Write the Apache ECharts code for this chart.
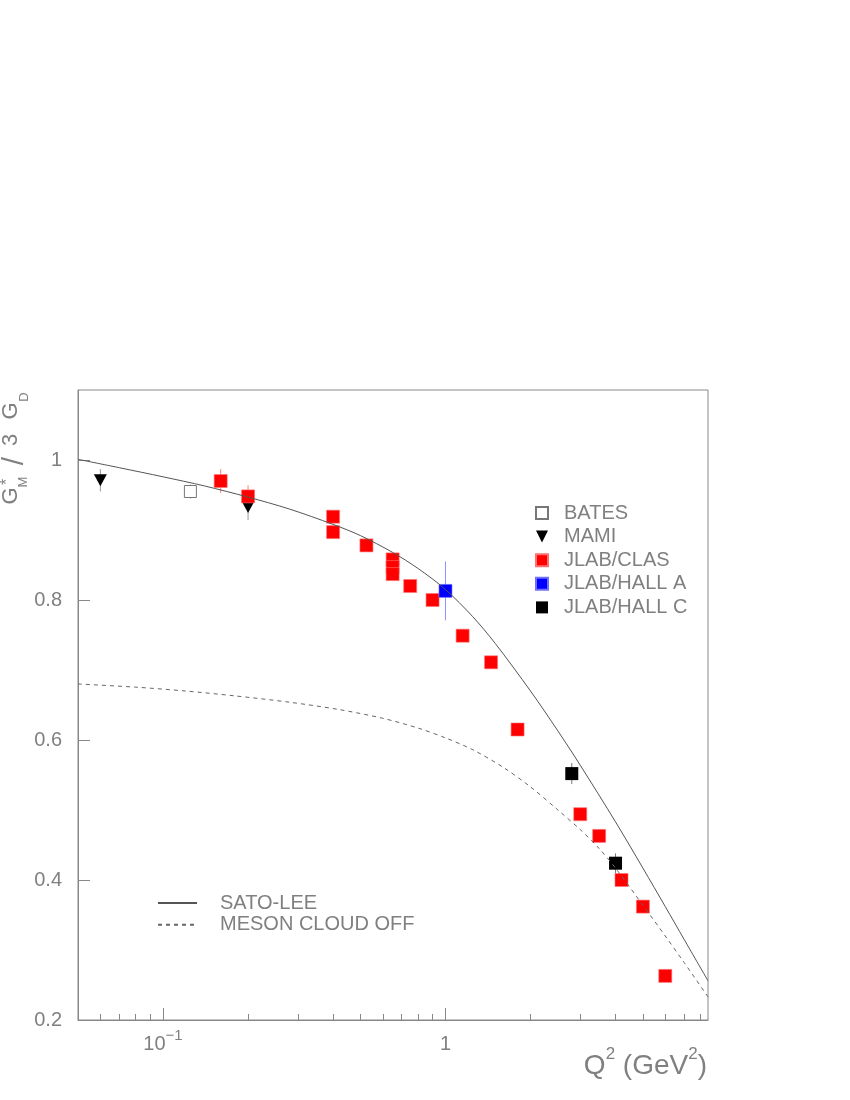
<!DOCTYPE html>
<html>
<head>
<meta charset="utf-8">
<script src="https://cdn.jsdelivr.net/npm/echarts@6/dist/echarts.min.js"></script>
<style>html,body{margin:0;padding:0;background:#fff}#c{width:850px;height:1100px}</style>
</head>
<body>
<div id="c"></div>
<script>
// ---- data ----
const batesX = [0.125];
const batesY = [0.955];
const batesErr = [0.010];

const mamiX = [0.06, 0.2];
const mamiY = [0.971, 0.933];
const mamiErr = [0.016, 0.019];

const clasX = [0.16, 0.2, 0.4, 0.4, 0.525, 0.65, 0.65, 0.65, 0.75, 0.9, 1.15, 1.45, 1.8, 3.0, 3.5, 4.2, 5.0, 6.0];
const clasY = [0.970, 0.948, 0.919, 0.897, 0.878, 0.858, 0.847, 0.837, 0.820, 0.800, 0.749, 0.711, 0.615, 0.494, 0.463, 0.400, 0.362, 0.263];
const clasErr = [0.017, 0.016, 0.006, 0.006, 0.005, 0.005, 0.005, 0.005, 0.005, 0.005, 0.005, 0.005, 0.005, 0.006, 0.006, 0.006, 0.006, 0.006];

const hallAX = [1.0];
const hallAY = [0.813];
const hallAErr = [0.042];

const hallCX = [2.8, 4.0];
const hallCY = [0.552, 0.424];
const hallCErr = [0.015, 0.014];

const satoX = [0.05, 0.07, 0.1, 0.14, 0.2, 0.28, 0.4, 0.5, 0.65, 0.8, 1.0, 1.25, 1.5, 2.0, 2.5, 3.0, 4.0, 5.0, 6.0, 7.0, 8.5];
const satoY = [1.001, 0.989, 0.976, 0.963, 0.947, 0.930, 0.908, 0.892, 0.868, 0.845, 0.815, 0.776, 0.738, 0.670, 0.613, 0.564, 0.483, 0.417, 0.362, 0.315, 0.256];

const dashX = [0.05, 0.08, 0.12, 0.18, 0.28, 0.42, 0.6, 0.8, 1.0, 1.25, 1.6, 2.0, 2.5, 3.0, 3.5, 4.0, 5.0, 6.0, 7.0, 8.5];
const dashY = [0.680, 0.6755, 0.670, 0.663, 0.654, 0.6435, 0.631, 0.617, 0.603, 0.586, 0.561, 0.533, 0.500, 0.472, 0.445, 0.417, 0.364, 0.320, 0.282, 0.233];

const xMajorTicks = [0.1, 1];
const xMinorTicks = [0.06, 0.07, 0.08, 0.09, 0.2, 0.3, 0.4, 0.5, 0.6, 0.7, 0.8, 0.9, 2, 3, 4, 5, 6, 7, 8];

// ---- helpers ----
const FONT = 'Liberation Sans';
const GRAY = '#808080';
const zip = (xs, ys) => xs.map((x, i) => [x, ys[i]]);
const zip3 = (xs, ys, es) => xs.map((x, i) => [x, ys[i], es[i]]);

function errSeries(xs, ys, es, color) {
  return {
    type: 'custom',
    data: zip3(xs, ys, es),
    encode: { x: 0, y: 1 },
    z: 1,
    silent: true,
    renderItem: function (params, api) {
      const x = api.value(0), y = api.value(1), e = api.value(2);
      const p1 = api.coord([x, y - e]);
      const p2 = api.coord([x, y + e]);
      return { type: 'line', shape: { x1: p1[0], y1: p1[1], x2: p2[0], y2: p2[1] },
               style: { stroke: color, lineWidth: 1 } };
    }
  };
}

const chart = echarts.init(document.getElementById('c'), null, { renderer: 'canvas' });

const option = {
  animation: false,
  backgroundColor: '#fff',
  textStyle: { fontFamily: FONT },
  grid: { left: 78, top: 390, right: 142, bottom: 80, show: true, borderColor: '#888', borderWidth: 1, backgroundColor: 'transparent' },
  xAxis: [
    {
      type: 'log', logBase: 10, min: 0.05, max: 8.5,
      axisLine: { show: true, lineStyle: { color: '#888', width: 1 } },
      axisTick: { show: true, inside: true, length: 12, customValues: xMajorTicks, lineStyle: { color: '#888' } },
      splitLine: { show: false },
      axisLabel: {
        customValues: xMajorTicks,
        margin: 8,
        formatter: function (v) { return Math.abs(v - 1) < 1e-9 ? '{n|1}' : '{n|10}{s|−1}'; },
        rich: {
          n: { fontSize: 20, lineHeight: 26, verticalAlign: 'bottom', color: GRAY, fontFamily: FONT },
          s: { fontSize: 15, lineHeight: 14, verticalAlign: 'top', color: GRAY, fontFamily: FONT }
        }
      }
    },
    {
      type: 'log', logBase: 10, min: 0.05, max: 8.5, position: 'bottom',
      axisLine: { show: false },
      axisTick: { show: true, inside: true, length: 6, customValues: xMinorTicks, lineStyle: { color: '#888' } },
      axisLabel: { show: false },
      splitLine: { show: false }
    }
  ],
  yAxis: {
    type: 'value', min: 0.2, max: 1.1, interval: 0.2,
    axisLine: { show: true, lineStyle: { color: '#888', width: 1 } },
    axisTick: { show: true, inside: true, length: 12, lineStyle: { color: '#888' } },
    splitLine: { show: false },
    axisLabel: { showMaxLabel: false, margin: 16, fontSize: 20, color: GRAY, fontFamily: FONT }
  },
  legend: [
    {
      orient: 'vertical', left: 535, top: 503, padding: 0,
      itemWidth: 12, itemHeight: 12, itemGap: 3.6,
      textStyle: { fontSize: 20, lineHeight: 20, color: GRAY, fontFamily: FONT, padding: [0, 0, 0, 11] },
      data: [
        { name: 'BATES' },
        { name: 'MAMI', icon: 'path://M0,0L10,0L5,10Z' },
        { name: 'JLAB/CLAS' },
        { name: 'JLAB/HALL A' },
        { name: 'JLAB/HALL C' }
      ]
    },
    {
      orient: 'vertical', left: 157, top: 893, padding: 0,
      itemWidth: 39, itemHeight: 10, itemGap: 1.8,
      itemStyle: { opacity: 0 },
      textStyle: { fontSize: 20, lineHeight: 20, color: GRAY, fontFamily: FONT, padding: [0, 0, 0, 18] },
      data: ['SATO-LEE', 'MESON CLOUD OFF']
    }
  ],
  graphic: [
    { type: 'text', rotation: Math.PI / 2, x: 11, y: 496, style: { text: 'G', fontSize: 22, fontFamily: FONT, fill: GRAY, align: 'center', verticalAlign: 'middle' } },
    { type: 'text', rotation: Math.PI / 2, x: 8, y: 482, style: { text: '*', fontSize: 16, fontFamily: FONT, fill: GRAY, align: 'center', verticalAlign: 'middle' } },
    { type: 'text', rotation: Math.PI / 2, x: 23, y: 482, style: { text: 'M', fontSize: 13, fontFamily: FONT, fill: GRAY, align: 'center', verticalAlign: 'middle' } },
    { type: 'text', rotation: Math.PI / 2, x: 15, y: 461, style: { text: '/', fontSize: 30, fontFamily: FONT, fill: GRAY, align: 'center', verticalAlign: 'middle' } },
    { type: 'text', rotation: Math.PI / 2, x: 11, y: 440, style: { text: '3', fontSize: 22, fontFamily: FONT, fill: GRAY, align: 'center', verticalAlign: 'middle' } },
    { type: 'text', rotation: Math.PI / 2, x: 11, y: 411, style: { text: 'G', fontSize: 22, fontFamily: FONT, fill: GRAY, align: 'center', verticalAlign: 'middle' } },
    { type: 'text', rotation: Math.PI / 2, x: 24, y: 397, style: { text: 'D', fontSize: 13, fontFamily: FONT, fill: GRAY, align: 'center', verticalAlign: 'middle' } },
    { type: 'text', x: 707, y: 1063, style: {
        text: '{a|Q}{s|2}{a| (GeV}{s|2}{a|)}', align: 'right', verticalAlign: 'middle',
        rich: {
          a: { fontSize: 28, lineHeight: 34, verticalAlign: 'bottom', fill: GRAY, color: GRAY, fontFamily: FONT },
          s: { fontSize: 17, lineHeight: 16, verticalAlign: 'top', fill: GRAY, color: GRAY, fontFamily: FONT }
        } } }
  ],
  series: [
    errSeries(batesX, batesY, batesErr, '#999'),
    errSeries(mamiX, mamiY, mamiErr, '#999'),
    errSeries(clasX, clasY, clasErr, '#ff8080'),
    errSeries(hallAX, hallAY, hallAErr, '#9090ff'),
    errSeries(hallCX, hallCY, hallCErr, '#777'),
    {
      name: 'BATES', type: 'scatter', z: 3, data: zip(batesX, batesY),
      symbol: 'rect', symbolSize: 12,
      itemStyle: { color: '#fff', borderColor: '#777', borderWidth: 1, opacity: 1 }
    },
    {
      name: 'MAMI', type: 'scatter', z: 3, data: zip(mamiX, mamiY),
      symbol: 'triangle', symbolRotate: 180, symbolSize: [13, 12],
      itemStyle: { color: '#000', opacity: 1 }
    },
    {
      name: 'JLAB/CLAS', type: 'scatter', z: 3, data: zip(clasX, clasY),
      symbol: 'rect', symbolSize: 13,
      itemStyle: { color: '#ff0000', borderColor: '#ff7070', borderWidth: 0.6, opacity: 1 }
    },
    {
      name: 'JLAB/HALL A', type: 'scatter', z: 3, data: zip(hallAX, hallAY),
      symbol: 'rect', symbolSize: 13,
      itemStyle: { color: '#0000ff', borderColor: '#7070ff', borderWidth: 0.6, opacity: 1 }
    },
    {
      name: 'JLAB/HALL C', type: 'scatter', z: 3, data: zip(hallCX, hallCY),
      symbol: 'rect', symbolSize: 13,
      itemStyle: { color: '#000', opacity: 1 }
    },
    {
      name: 'SATO-LEE', type: 'line', z: 4, data: zip(satoX, satoY),
      smooth: 0.3, symbol: 'none', clip: true,
      lineStyle: { color: '#555', width: 1, type: 'solid' },
      itemStyle: { color: '#555' }
    },
    {
      name: 'MESON CLOUD OFF', type: 'line', z: 4, data: zip(dashX, dashY),
      smooth: 0.3, symbol: 'none', clip: true,
      lineStyle: { color: '#666', width: 1, type: [4, 4] },
      itemStyle: { color: '#666' }
    }
  ]
};
chart.setOption(option);
</script>
</body>
</html>
